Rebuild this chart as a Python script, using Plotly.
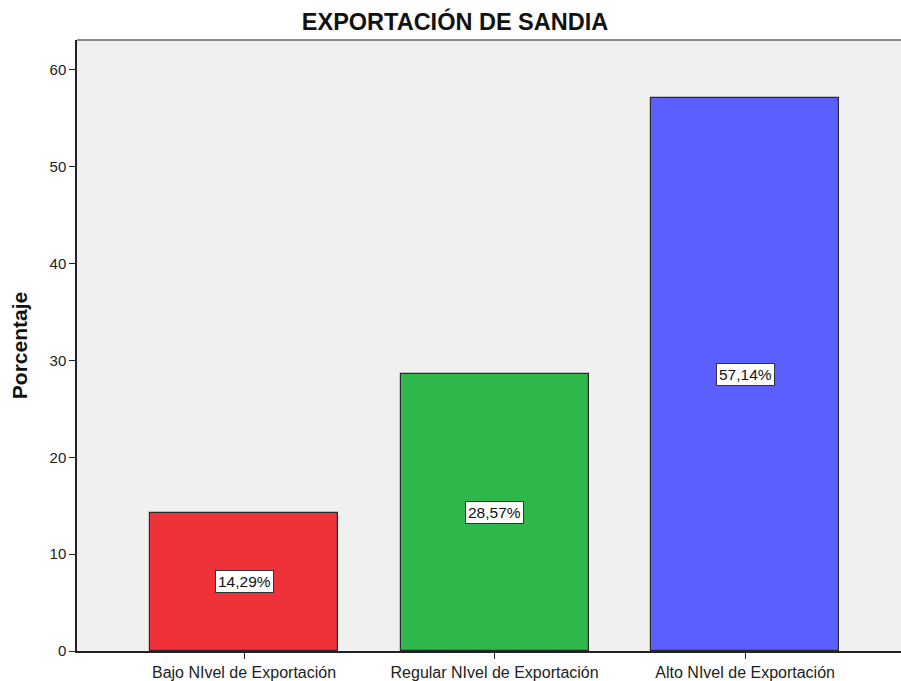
import plotly.graph_objects as go

categories = ["Bajo NIvel de Exportación", "Regular NIvel de Exportación", "Alto NIvel de Exportación"]
values = [14.29, 28.57, 57.14]
labels = ["14,29%", "28,57%", "57,14%"]
colors = ["#EF323A", "#2EB84C", "#5B5FFF"]
yticks = [0, 10, 20, 30, 40, 50, 60]

FONT = "Liberation Sans, Arial"

fig = go.Figure()
fig.add_trace(go.Bar(
    x=list(range(len(categories))), y=values, width=0.75,
    marker=dict(color=colors, line=dict(color="#2a2a2a", width=1.2)),
    hoverinfo="skip",
))

for i, (v, lab) in enumerate(zip(values, labels)):
    fig.add_annotation(x=i, y=v / 2, text=lab, showarrow=False,
                       font=dict(family=FONT, size=15.5, color="#111"),
                       bgcolor="white", bordercolor="#333", borderwidth=1, borderpad=2)

fig.add_shape(type="line", xref="paper", yref="paper", x0=0, x1=1, y0=1, y1=1,
              line=dict(color="#8a8a8a", width=2))

fig.update_layout(
    width=901, height=681,
    margin=dict(l=77, r=0, t=40, b=29),
    paper_bgcolor="white", plot_bgcolor="#F0F0F0",
    showlegend=False, bargap=0,
    title=dict(text="<b>EXPORTACIÓN DE SANDIA</b>", x=0.505, xanchor="center", y=0.968, yanchor="middle",
               font=dict(family=FONT, size=23.5, color="#111")),
    font=dict(family=FONT, size=15, color="#222"),
)
fig.update_xaxes(range=[-0.6667, 2.622], tickmode="array", tickvals=list(range(len(categories))),
                 ticktext=categories, ticks="outside", ticklen=6, tickcolor="#222",
                 showline=True, linecolor="#222", linewidth=1.5, showgrid=False, zeroline=False,
                 tickfont=dict(size=16, color="#222"))
fig.update_yaxes(range=[0, 63.09], tickvals=yticks, ticks="outside", ticklen=6, tickcolor="#222",
                 showline=True, linecolor="#222", linewidth=1.5, showgrid=False, zeroline=False,
                 title=dict(text="<b>Porcentaje</b>", font=dict(size=21, color="#111"), standoff=16),
                 tickfont=dict(size=15, color="#222"))

# remove the page's default body margin so the figure fills the window
post = ("document.body.style.margin='0';"
        "var gd=document.getElementById('{plot_id}');"
        "Plotly.relayout(gd,{width:901,height:681});")

fig.write_html("out.html", config={"responsive": False, "displayModeBar": False}, post_script=post)
